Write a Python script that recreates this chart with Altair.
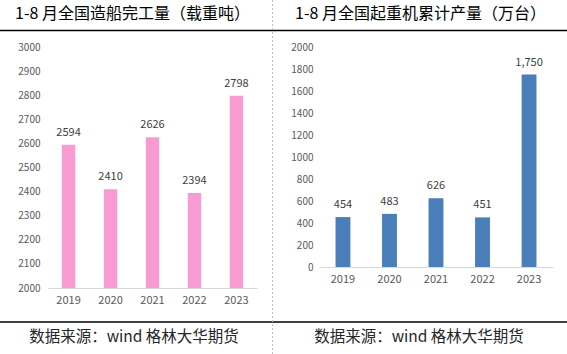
import altair as alt
import pandas as pd

years = ["2019", "2020", "2021", "2022", "2023"]
ship_values = [2594, 2410, 2626, 2394, 2798]
crane_values = [454, 483, 626, 451, 1750]
ship_ticks = [2000, 2100, 2200, 2300, 2400, 2500, 2600, 2700, 2800, 2900, 3000]
crane_ticks = [0, 200, 400, 600, 800, 1000, 1200, 1400, 1600, 1800, 2000]
titles = ["1-8 月全国造船完工量（载重吨）", "1-8 月全国起重机累计产量（万台）"]
source_text = "数据来源：wind 格林大华期货"

FONT = "Noto Sans CJK SC"
PINK = "#F99BD3"
BLUE = "#4A7EBB"

df_ship = pd.DataFrame({"year": years, "value": ship_values})
df_crane = pd.DataFrame({"year": years, "value": crane_values})

# ---- left panel ----
xl = alt.X("year:O", title=None,
           scale=alt.Scale(type="band", range=[48, 257], paddingInner=0.68, paddingOuter=0.33),
           axis=alt.Axis(orient="bottom", offset=-66, labelAngle=0, ticks=False,
                         domainColor="#D9D9D9", labelColor="#595959", labelFontSize=11,
                         labelFont=FONT, labelPadding=6))
yl = alt.Y("value:Q", title=None,
           scale=alt.Scale(domain=[2000, 3000], range=[288, 47], zero=False, nice=False),
           axis=alt.Axis(orient="left", offset=-44, values=ship_ticks, grid=False, domain=False,
                         ticks=False, labelColor="#595959", labelFontSize=10, labelFont=FONT,
                         labelPadding=4, format="d", labelOverlap=False))
bars_l = alt.Chart(df_ship).mark_bar(color=PINK).encode(x=xl, y=yl, y2=alt.Y2(datum=2000))
text_l = alt.Chart(df_ship).mark_text(baseline="bottom", dy=-7, fontSize=11, color="#404040",
                                      font=FONT).encode(
    x=xl, y=yl, text=alt.Text("value:Q", format="d"))
left = alt.layer(bars_l, text_l)

# ---- right panel ----
xr = alt.X("year:O", title=None,
           scale=alt.Scale(type="band", range=[319, 553], paddingInner=0.68, paddingOuter=0.355),
           axis=alt.Axis(orient="bottom", offset=-87, labelAngle=0, ticks=False,
                         domainColor="#D9D9D9", labelColor="#595959", labelFontSize=11,
                         labelFont=FONT, labelPadding=6))
yr = alt.Y("value:Q", title=None,
           scale=alt.Scale(domain=[0, 2000], range=[267, 47], nice=False),
           axis=alt.Axis(orient="left", offset=-317, values=crane_ticks, grid=False, domain=False,
                         ticks=False, labelColor="#595959", labelFontSize=10, labelFont=FONT,
                         labelPadding=4, format="d", labelOverlap=False))
bars_r = alt.Chart(df_crane).mark_bar(color=BLUE).encode(x=xr, y=yr)
text_r = alt.Chart(df_crane).mark_text(baseline="bottom", dy=-7, fontSize=11, color="#404040",
                                       font=FONT).encode(
    x=xr, y=yr, text=alt.Text("value:Q", format=","))
right = alt.layer(bars_r, text_r)

# ---- decorations ----
one = pd.DataFrame({"k": [0]})
title_l = alt.Chart(one).mark_text(text=titles[0], align="left", baseline="middle", fontSize=16,
                                   font=FONT, color="#000000").encode(
    x=alt.value(15), y=alt.value(14))
title_r = alt.Chart(one).mark_text(text=titles[1], align="left", baseline="middle", fontSize=16,
                                   font=FONT, color="#000000").encode(
    x=alt.value(295), y=alt.value(14))
src_l = alt.Chart(one).mark_text(text=source_text, align="center", baseline="middle", fontSize=15.5,
                                 font=FONT, color="#262626").encode(
    x=alt.value(134), y=alt.value(337))
src_r = alt.Chart(one).mark_text(text=source_text, align="center", baseline="middle", fontSize=15.5,
                                 font=FONT, color="#262626").encode(
    x=alt.value(419), y=alt.value(337))
top_line = alt.Chart(one).mark_rule(color="#000000", strokeWidth=1.5).encode(
    x=alt.value(0), x2=alt.value(567), y=alt.value(30.5))
bot_line = alt.Chart(one).mark_rule(color="#000000", strokeWidth=1.5).encode(
    x=alt.value(0), x2=alt.value(567), y=alt.value(322))
vline = alt.Chart(one).mark_rule(color="#BFBFBF", strokeWidth=1, strokeDash=[2, 2]).encode(
    x=alt.value(272.5), y=alt.value(0), y2=alt.value(354))

chart = alt.layer(
    left, right, top_line, bot_line, vline, title_l, title_r, src_l, src_r
).resolve_scale(x="independent", y="independent").resolve_axis(
    x="independent", y="independent"
).properties(
    width=567, height=354, autosize="none", padding=0, background="#FFFFFF"
).configure_view(stroke=None)

chart.save("out.html", embed_options={"renderer": "svg", "actions": False})
